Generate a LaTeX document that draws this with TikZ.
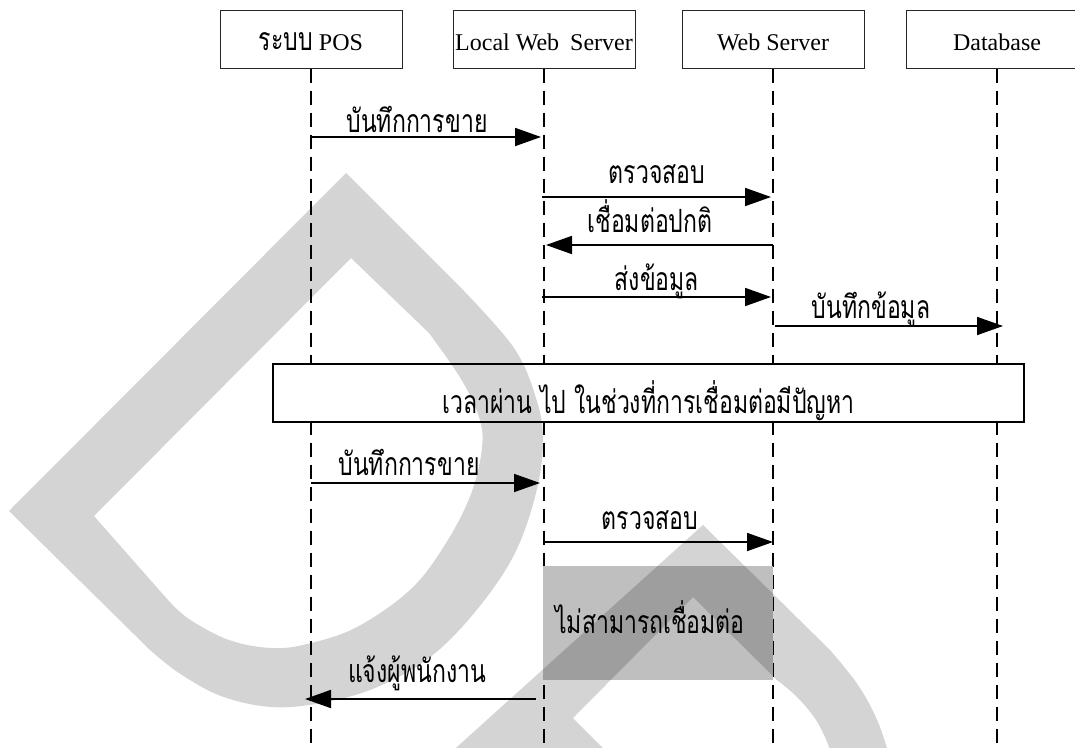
\documentclass[tikz,border=0pt]{standalone}
\usepackage{fontspec}
\setmainfont{Liberation Serif}
\newfontfamily\thai[Script=Thai,FakeStretch=0.72]{Loma}
\usetikzlibrary{arrows.meta}
\newcommand\thaisize{\thai\fontsize{32}{36}\selectfont}

\begin{document}
\begin{tikzpicture}[x=1pt,y=-1pt,
  actor/.style={draw=black!85, line width=1pt, fill=white,
    minimum width=182pt, minimum height=58pt, inner sep=0pt,
    font=\fontsize{24}{28}\selectfont, text height=22pt, text depth=0pt},
  lifeline/.style={line width=1.5pt, dash pattern=on 14pt off 8pt},
  msg/.style={line width=1.8pt, -{Triangle[length=26pt,width=18pt]}},
  lbl/.style={anchor=base, font=\thaisize, inner sep=0pt},
  pause/.style={draw, line width=2pt, fill=white, minimum width=751pt,
    minimum height=58pt, inner sep=0pt},
  blocked/.style={fill=black!25, minimum width=230pt, minimum height=114pt,
    inner sep=0pt},
  wmark/.style={fill=black, fill opacity=0.17, even odd rule},
]
\useasboundingbox (0,0) rectangle (1075,747);
\clip (0,0) rectangle (1075,747);

% participants
\node[actor] (pos) at (311,39) {{\thaisize ระบบ} POS};
\node[actor] (lws) at (544,39) {Local Web\hspace{5pt} Server};
\node[actor] (ws)  at (773,39) {Web Server};
\node[actor] (db)  at (997,39) {Database};

% message rows
\coordinate (bottom) at (0,747);
\coordinate (m1) at (0,137);
\coordinate (m2) at (0,197);
\coordinate (m3) at (0,245);
\coordinate (m4) at (0,297);
\coordinate (m5) at (0,326);
\coordinate (m6) at (0,483);
\coordinate (m7) at (0,542);
\coordinate (m8) at (0,699);

% lifelines
\foreach \p in {pos,lws,ws,db}
  \draw[lifeline] (\p.south) -- (\p.south |- bottom);

% normal connection
\draw[msg, shorten >=3pt] (pos |- m1) -- (lws |- m1);
\node[lbl] (l1) at (417,132) {บันทึกการขาย};
\draw[msg, shorten >=2pt, shorten <=-2pt] (lws |- m2) -- (ws |- m2);
\node[lbl] (l2) at (657,183) {ตรวจสอบ};
\draw[msg, shorten >=2pt] (ws |- m3) -- (lws |- m3);
\node[lbl] (l3) at (650,232) {เชื่อมต่อปกติ};
\draw[msg, shorten >=2pt, shorten <=-2pt] (lws |- m4) -- (ws |- m4);
\node[lbl] (l4) at (657,290) {ส่งข้อมูล};
\draw[msg, shorten >=-6pt, shorten <=2pt] (ws |- m5) -- (db |- m5);
\node[lbl] (l5) at (871,318) {บันทึกข้อมูล};

% time gap
\node[pause] (gap) at (648.5,393) {};
\node[lbl] (gapt) at (648.5,413) {เวลาผ่าน ไป ในช่วงที่การเชื่อมต่อมีปัญหา};

% failed connection
\draw[msg, shorten >=4pt] (pos |- m6) -- (lws |- m6);
\node[lbl] (l6) at (409,475) {บันทึกการขาย};
\draw[msg, shorten <=-1pt] (lws |- m7) -- (ws |- m7);
\node[lbl] (l7) at (650,529) {ตรวจสอบ};
\node[blocked] (fail) at (658,623) {};
\node[lbl] (failt) at (650,633) {ไม่สามารถเชื่อมต่อ};
\draw[msg, shorten <=8pt, shorten >=-6pt] (lws |- m8) -- (pos |- m8);
\node[lbl] (l8) at (417,682) {แจ้งผู้พนักงาน};

% background emblem
\fill[wmark]
  (346,173) -- (464,291)
  -- plot[smooth, tension=0.6] coordinates {(464,291) (514,348) (536,398) (543,440)
    (536,493) (514,555) (475,612) (429,658) (375,688) (321,703) (271,707)
    (221,696) (179,673) (150,650)}
  -- (9,511) -- cycle
  (351,258) -- (429,333)
  -- plot[smooth, tension=0.6] coordinates {(429,333) (461,379) (479,417) (482,448)
    (471,494) (446,543) (411,589) (357,627) (307,644) (271,648) (229,640)
    (189,619) (168,600)}
  -- (94,516) -- cycle;
\fill[wmark]
  (703,525) -- (830,650)
  -- plot[smooth, tension=0.6] coordinates {(830,650) (858,685) (878,722) (892,765)}
  -- (832,765)
  -- plot[smooth, tension=0.6] coordinates {(832,765) (829,747) (816,720) (797,697) (777,680)}
  -- (693,597) -- (573,718) -- (620,765) -- (437,765) -- cycle;
\end{tikzpicture}
\end{document}
